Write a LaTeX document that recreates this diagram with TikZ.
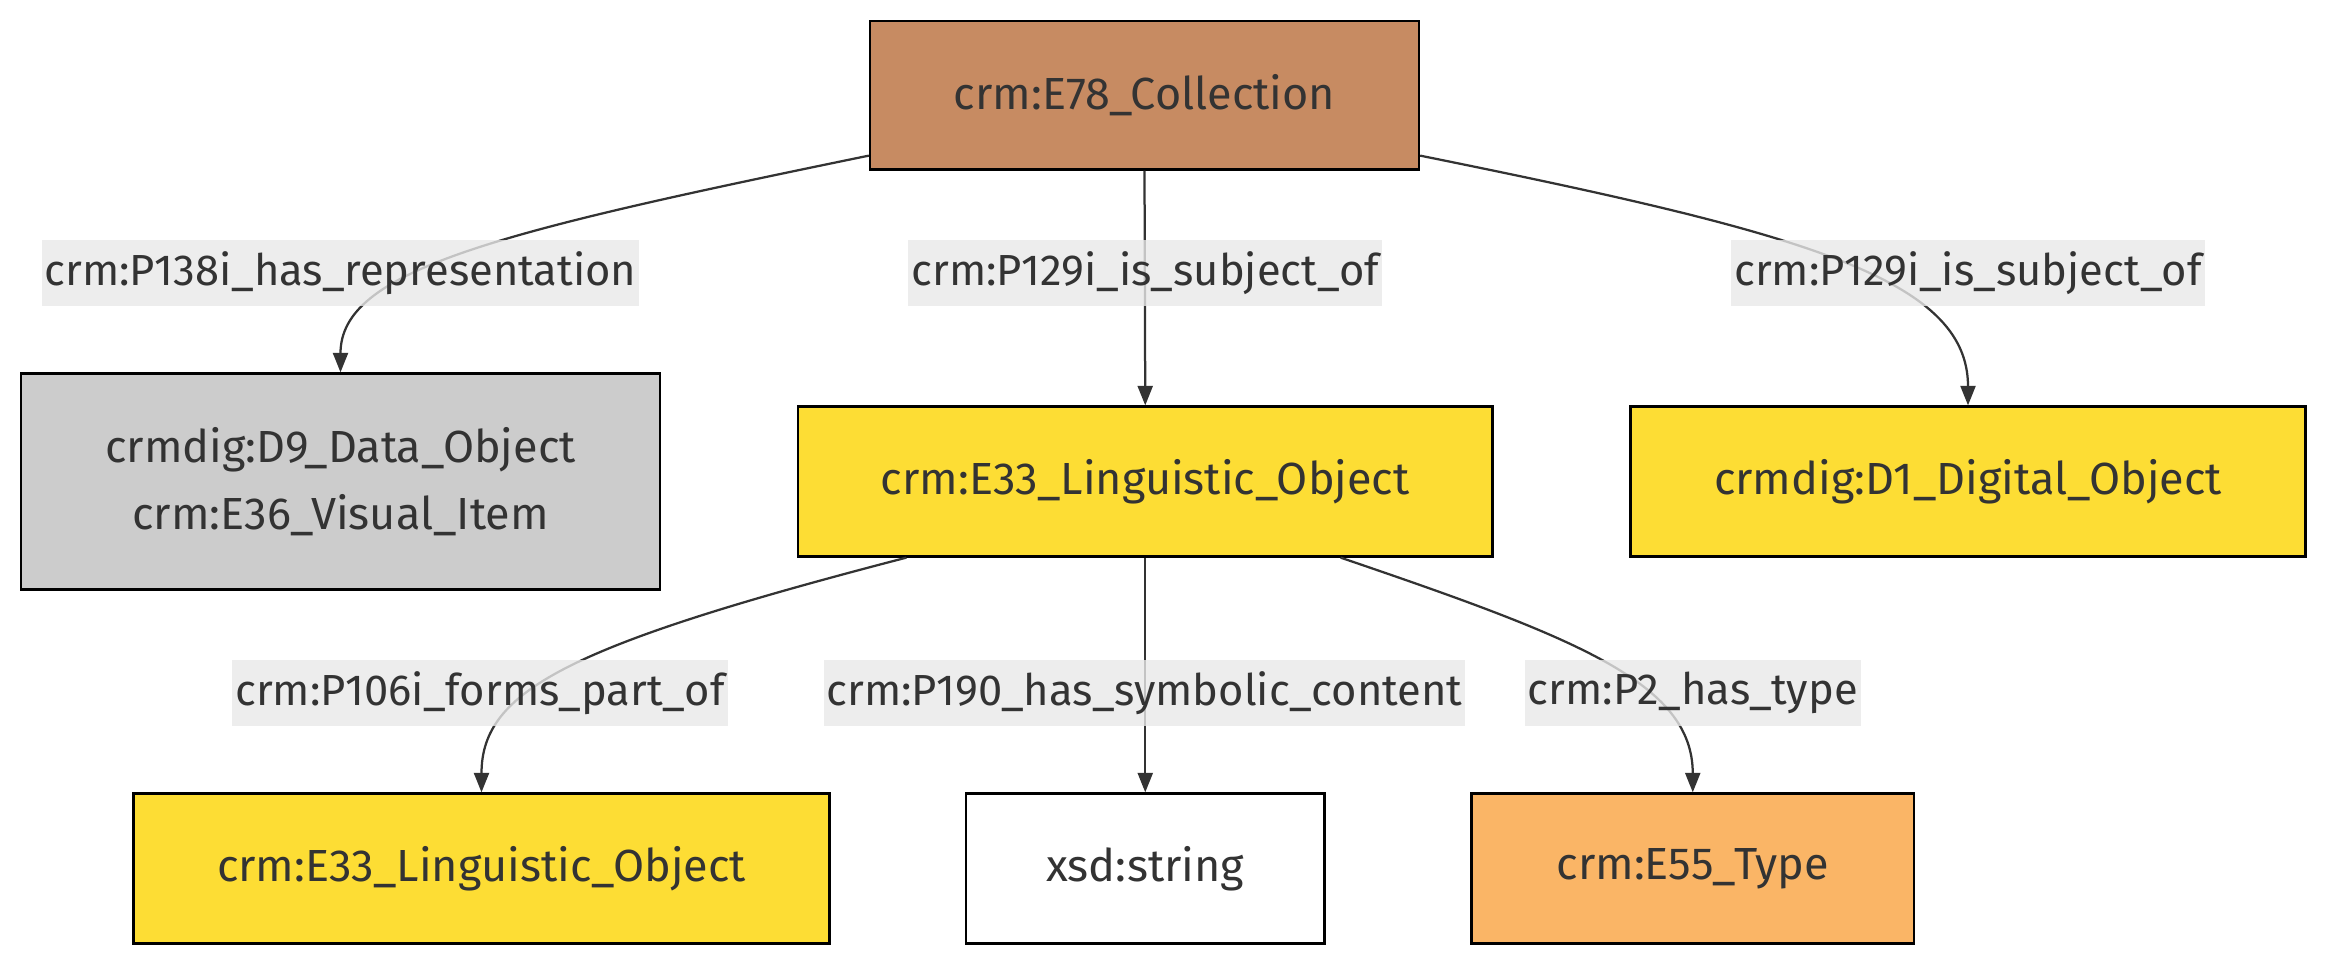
\documentclass[tikz,border=0pt]{standalone}
\usepackage{fontspec}
\setmainfont{Fira Sans}
\usetikzlibrary{arrows.meta}
\definecolor{txt}{HTML}{333333}
\definecolor{lbl}{HTML}{E8E8E8}
\definecolor{brownc}{HTML}{C78B62}
\definecolor{greyc}{HTML}{CCCCCC}
\definecolor{yel}{HTML}{FDDD34}
\definecolor{orangec}{HTML}{FAB566}
\tikzset{
  box/.style={draw=black, line width=1.5pt, text=txt, inner sep=0pt, minimum height=100pt, align=center, font=\fontsize{30}{45}\selectfont},
  elabel/.style={fill=lbl, fill opacity=0.8, text opacity=1, text=txt, inner xsep=2pt, inner ysep=0pt, minimum height=44pt, font=\fontsize{29}{34}\selectfont},
  edge/.style={draw=txt, line width=1.5pt, -{Triangle[length=13pt,width=10pt]}}
}
\begin{document}
\begin{tikzpicture}[x=1pt,y=-1pt]
\useasboundingbox (0,0) rectangle (1568,652);
\node[box, fill=brownc, minimum width=366pt, minimum height=99pt] (e78) at (763,63.5) {crm:E78\_Collection};
\node[box, fill=greyc, minimum width=426pt, minimum height=144pt] (d9) at (227,321) {crmdig:D9\_Data\_Object\\crm:E36\_Visual\_Item};
\node[box, fill=yel, minimum width=463pt] (e33m) at (763.5,321) {crm:E33\_Linguistic\_Object};
\node[box, fill=yel, minimum width=450pt] (d1) at (1312,321) {crmdig:D1\_Digital\_Object};
\node[box, fill=yel, minimum width=464pt] (e33b) at (321,579) {crm:E33\_Linguistic\_Object};
\node[box, fill=white, minimum width=239pt] (xsd) at (763.5,579) {xsd:string};
\node[box, fill=orangec, minimum width=295pt] (e55) at (1128.5,579) {crm:E55\_Type};

\draw[edge] ([yshift=10pt]e78.south west) .. controls (330,155) and (227,180) .. (d9.north);
\draw[edge] (e78.south) -- (e33m.north);
\draw[edge] ([yshift=10pt]e78.south east) .. controls (1200,155) and (1312,185) .. (d1.north);
\draw[edge] ([xshift=73pt]e33m.south west) .. controls (380,430) and (321,460) .. (e33b.north);
\draw[edge] (e33m.south) -- (xsd.north);
\draw[edge] ([xshift=-102pt]e33m.south east) .. controls (1050,425) and (1128.5,455) .. (e55.north);

\node[elabel] (l1) at (227,182) {crm:P138i\_has\_representation};
\node[elabel] (l2) at (763.5,182) {crm:P129i\_is\_subject\_of};
\node[elabel] (l3) at (1312,182) {crm:P129i\_is\_subject\_of};
\node[elabel] (l4) at (320,462) {crm:P106i\_forms\_part\_of};
\node[elabel] (l5) at (763,462) {crm:P190\_has\_symbolic\_content};
\node[elabel] (l6) at (1128.5,462) {crm:P2\_has\_type};
\end{tikzpicture}
\end{document}
